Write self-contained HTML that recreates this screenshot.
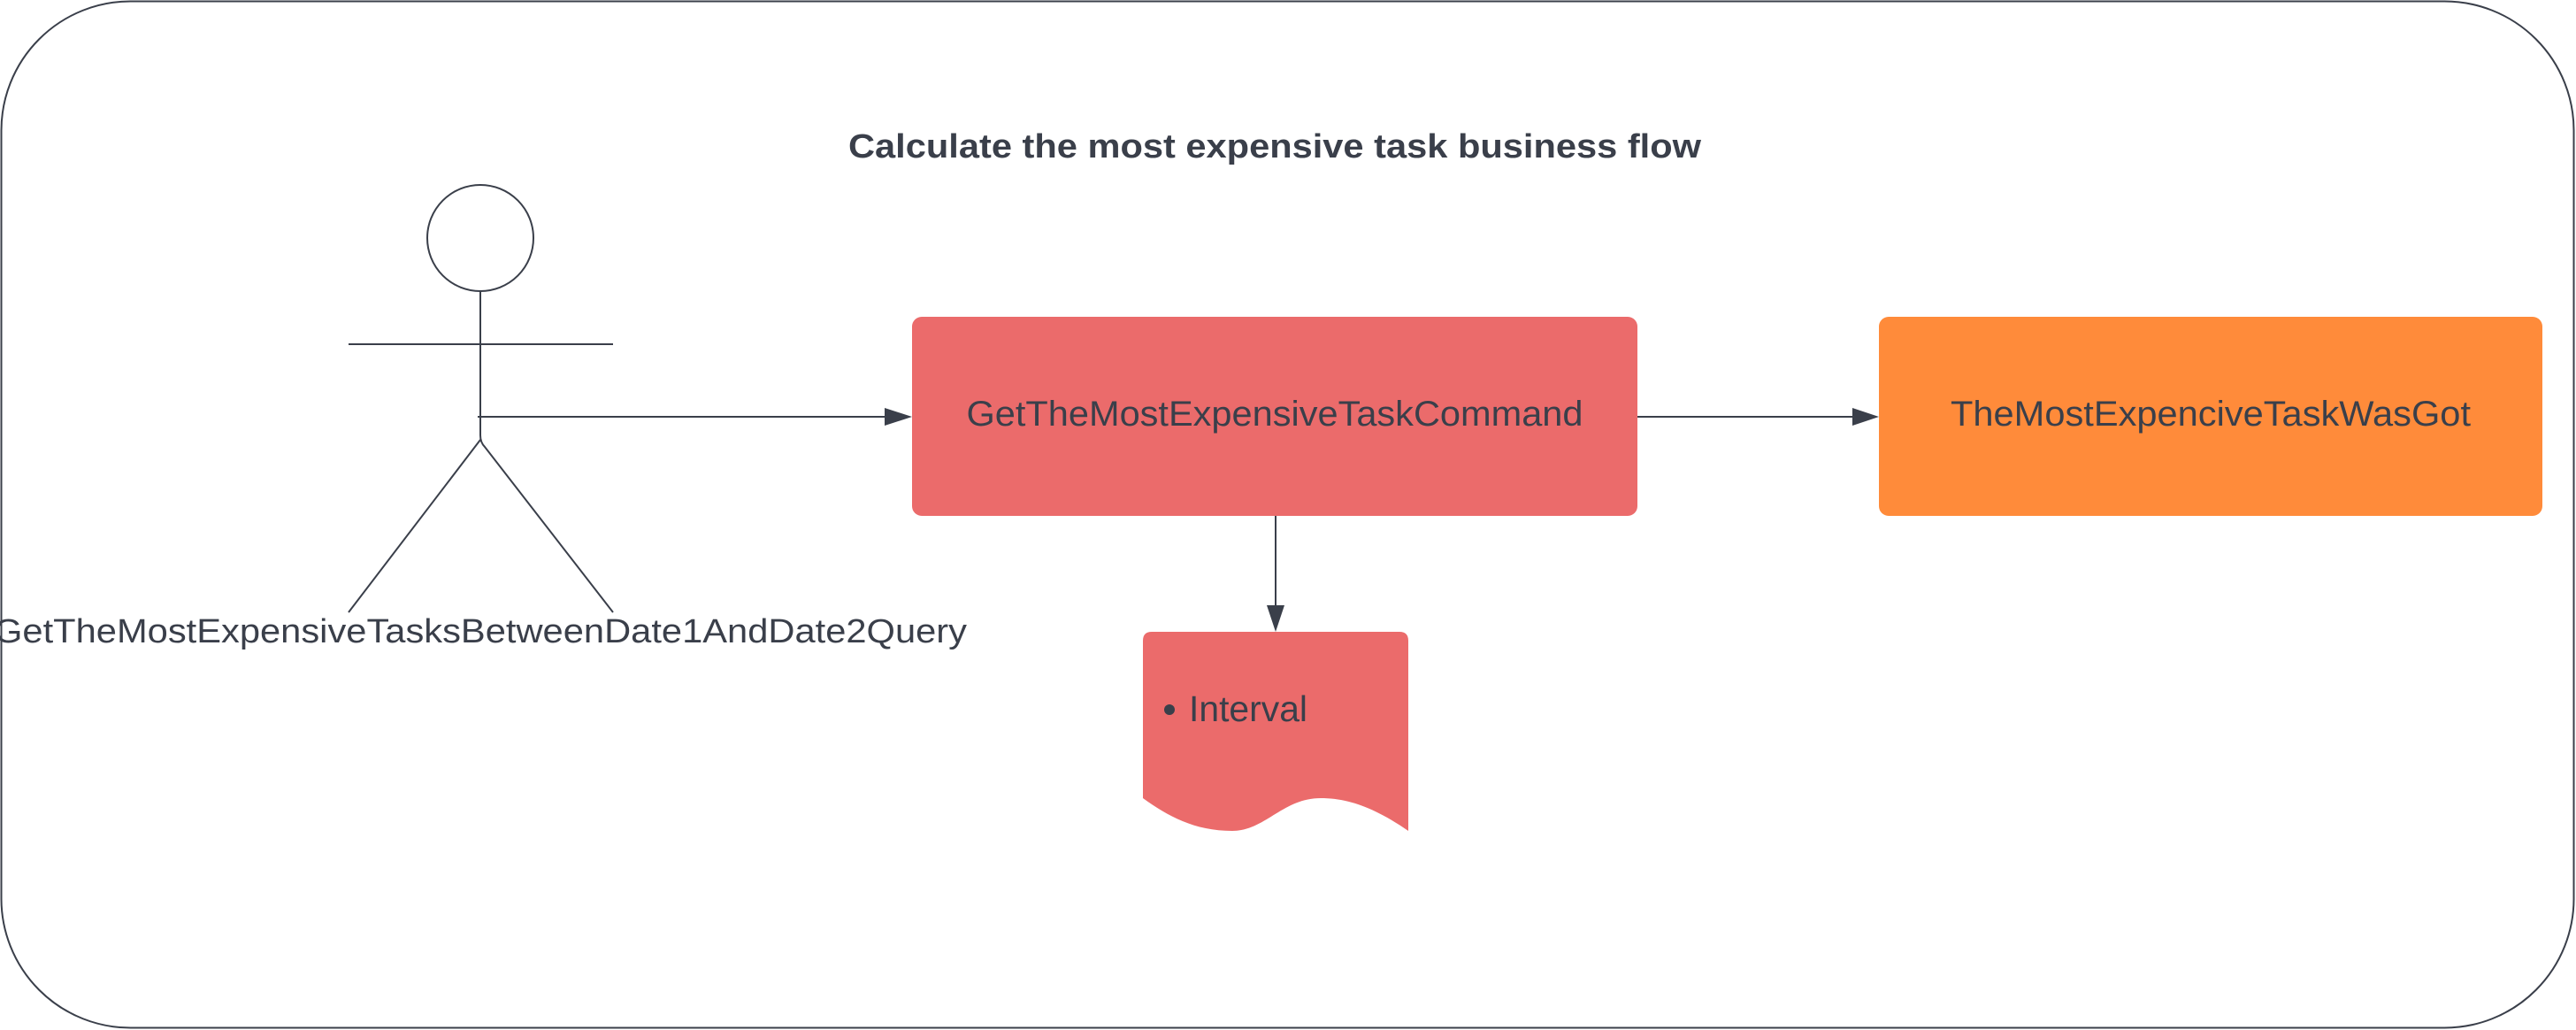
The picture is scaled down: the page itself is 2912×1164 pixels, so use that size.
<!DOCTYPE html>
<html><head><meta charset="utf-8"><style>
html,body{margin:0;padding:0;background:#fff;}
svg{display:block;}
text{font-family:"Liberation Sans",sans-serif;fill:#3a3f4a;}
</style></head><body>
<svg width="2912" height="1164" viewBox="0 0 2912 1164" xmlns="http://www.w3.org/2000/svg">
<defs>
<marker id="ah" markerWidth="12" markerHeight="12" refX="11" refY="6" orient="auto" markerUnits="userSpaceOnUse"><path d="M0,0 L30,6 L0,12 Z" fill="#3a3f4a"/></marker>
</defs>
<rect x="1.5" y="1.5" width="2908" height="1160" rx="146" ry="146" fill="#fff" stroke="#3a3f4a" stroke-width="2"/>
<text x="1441" y="178" text-anchor="middle" font-size="38" font-weight="bold" textLength="964" lengthAdjust="spacingAndGlyphs">Calculate the most expensive task business flow</text>
<!-- actor -->
<g stroke="#3a3f4a" stroke-width="2" fill="none">
<ellipse cx="543" cy="269" rx="60" ry="60"/>
<line x1="543" y1="329" x2="543" y2="492"/>
<line x1="394" y1="389" x2="693" y2="389"/>
<path d="M543,492 Q543,500 548,505 L693,692"/>
<path d="M543,497 L394,692"/>
</g>
<text x="543" y="726" text-anchor="middle" font-size="38" textLength="1100" lengthAdjust="spacingAndGlyphs">GetTheMostExpensiveTasksBetweenDate1AndDate2Query</text>
<!-- arrows -->
<g stroke="#3a3f4a" stroke-width="2">
<line x1="540" y1="471" x2="1000" y2="471"/>
<line x1="1851" y1="471" x2="2094" y2="471"/>
<line x1="1442" y1="583" x2="1442" y2="684"/>
</g>
<path d="M1000,461 L1031,471 L1000,481 Z" fill="#3a3f4a"/>
<path d="M2094,461 L2124,471 L2094,481 Z" fill="#3a3f4a"/>
<path d="M1432,684 L1442,714 L1452,684 Z" fill="#3a3f4a"/>
<!-- boxes -->
<rect x="1031" y="358" width="820" height="225" rx="11" fill="#eb6b6b"/>
<text x="1441" y="481" text-anchor="middle" font-size="40" textLength="697" lengthAdjust="spacingAndGlyphs">GetTheMostExpensiveTaskCommand</text>
<rect x="2124" y="358" width="750" height="225" rx="11" fill="#ff8b3a"/>
<text x="2499" y="481" text-anchor="middle" font-size="40" textLength="588" lengthAdjust="spacingAndGlyphs">TheMostExpenciveTaskWasGot</text>
<!-- document -->
<path d="M1292,724 Q1292,714 1302,714 L1582,714 Q1592,714 1592,724 L1592,939 C1550,910 1520,902 1493,902 C1450,902 1430,939 1393,939 C1350,939 1320,922 1292,902 Z" fill="#eb6b6b"/>
<circle cx="1322" cy="802" r="6" fill="#3a3f4a"/>
<text x="1344" y="815" font-size="41" textLength="134" lengthAdjust="spacingAndGlyphs">Interval</text>
</svg>
</body></html>
